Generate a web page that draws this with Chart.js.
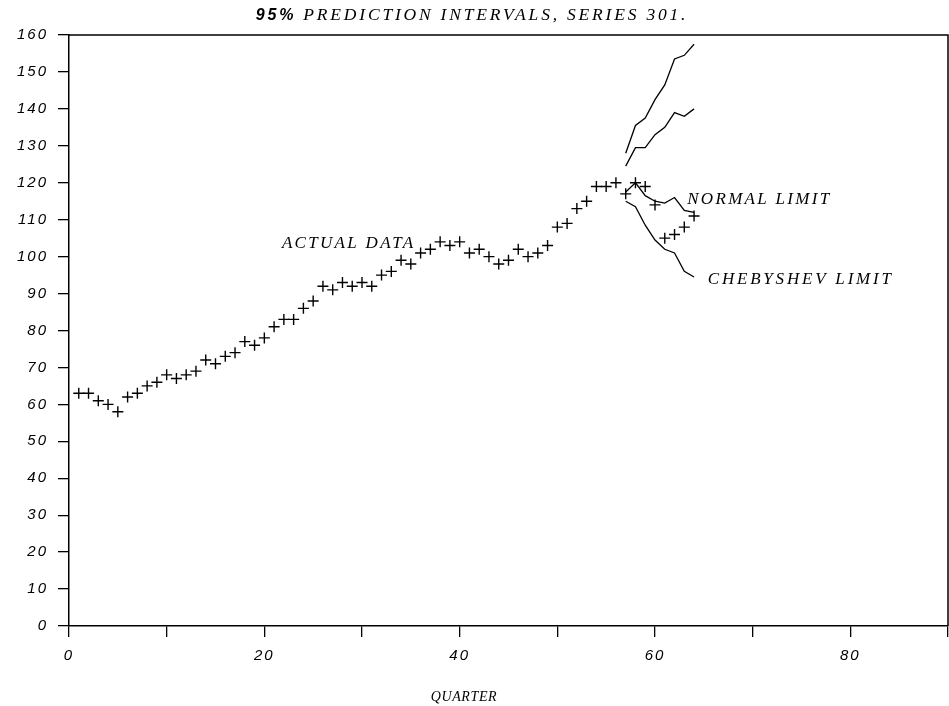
<!DOCTYPE html>
<html>
<head>
<meta charset="utf-8">
<script src="https://cdn.jsdelivr.net/npm/chart.js@4"></script>
<style>
  html, body { margin: 0; padding: 0; background: #fff; }
  canvas { display: block; }
</style>
</head>
<body>
<canvas id="predChart" width="949" height="706"></canvas>
<script>
// actual series, quarters 1..64
const actualValues = [63, 63, 61, 60, 58, 62, 63, 65, 66, 68,
    67, 68, 69, 72, 71, 73, 74, 77, 76, 78,
    81, 83, 83, 86, 88, 92, 91, 93, 92, 93,
    92, 95, 96, 99, 98, 101, 102, 104, 103, 104,
    101, 102, 100, 98, 99, 102, 100, 101, 103, 108,
    109, 113, 115, 119, 119, 120, 117, 120, 119, 114,
    105, 106, 108, 111];

// prediction interval bounds
const forecastQuarters = [57, 58, 59, 60, 61, 62, 63, 64];
const chebUpper = [128, 135.5, 137.5, 142.5, 146.5, 153.5, 154.5, 157.5];
const normalUpper = [124.5, 129.5, 129.5, 133, 135, 139, 138, 140];
const normalLower = [117.5, 120, 116.5, 115, 114.5, 116, 112.5, 112];
const chebLower = [115, 113.5, 108.5, 104.5, 102, 101, 96, 94.5];

const xTickLabels = [0, 20, 40, 60, 80];
const yTickLabels = [0, 10, 20, 30, 40, 50, 60, 70, 80, 90, 100, 110, 120, 130, 140, 150, 160];

const chartTitle = '95% PREDICTION INTERVALS, SERIES 301.';
const xTitle = 'QUARTER';

const toPoints = (xs, ys) => xs.map((x, i) => ({ x: x, y: ys[i] }));

function boundLine(values) {
    return {
        type: 'line',
        data: toPoints(forecastQuarters, values),
        borderColor: '#000',
        borderWidth: 1.3,
        pointRadius: 0,
        tension: 0,
        fill: false
    };
}

const tickFont = { family: '"Liberation Sans", Arial, sans-serif', size: 15, style: 'italic' };

// spacing for tick text, and frame + labels drawn on top
const framePlugin = {
    id: 'frame',
    beforeDraw(chart) {
        chart.ctx.letterSpacing = '2px';
    },
    beforeDatasetsDraw(chart) {
        chart.ctx.letterSpacing = '0px';
    },
    afterDraw(chart) {
        const ctx = chart.ctx;
        const area = chart.chartArea;
        const xs = chart.scales.x;
        const ys = chart.scales.y;

        ctx.save();
        ctx.strokeStyle = '#000';
        ctx.lineWidth = 1.5;
        ctx.beginPath();
        ctx.moveTo(area.left, area.top);
        ctx.lineTo(area.right, area.top);
        ctx.lineTo(area.right, area.bottom);
        ctx.stroke();

        ctx.fillStyle = '#000';
        ctx.textBaseline = 'alphabetic';
        ctx.textAlign = 'left';

        // title
        ctx.letterSpacing = '2.8px';
        ctx.font = 'italic bold 16px "Liberation Sans", Arial, sans-serif';
        const head = chartTitle.slice(0, 3);
        const rest = chartTitle.slice(3);
        const headW = ctx.measureText(head).width;
        ctx.font = 'italic 17.5px "Liberation Serif", serif';
        const restW = ctx.measureText(rest).width;
        let tx = 472 - (headW + restW) / 2;
        ctx.font = 'italic bold 16px "Liberation Sans", Arial, sans-serif';
        ctx.fillText(head, tx, 20);
        ctx.font = 'italic 17.5px "Liberation Serif", serif';
        ctx.fillText(rest, tx + headW, 20);

        // series labels
        ctx.font = 'italic 17px "Liberation Serif", serif';
        ctx.letterSpacing = '2.3px';
        ctx.fillText('ACTUAL DATA', xs.getPixelForValue(21.8), ys.getPixelForValue(102.2));
        ctx.fillText('NORMAL LIMIT', xs.getPixelForValue(63.3), ys.getPixelForValue(114.2));
        ctx.letterSpacing = '2.8px';
        ctx.fillText('CHEBYSHEV LIMIT', xs.getPixelForValue(65.4), ys.getPixelForValue(92.5));

        // axis title
        ctx.font = 'italic 14px "Liberation Serif", serif';
        ctx.letterSpacing = '0.6px';
        ctx.textAlign = 'center';
        ctx.fillText(xTitle, 464, 701);
        ctx.restore();
    }
};

document.addEventListener('DOMContentLoaded', function() {
    const ctx = document.getElementById('predChart').getContext('2d');
    new Chart(ctx, {
        type: 'scatter',
        data: {
            datasets: [
                {
                    label: 'Actual',
                    data: actualValues.map((v, i) => ({ x: i + 1, y: v })),
                    pointStyle: 'cross',
                    pointRadius: 5.5,
                    pointHoverRadius: 5.5,
                    borderColor: '#000',
                    backgroundColor: '#000',
                    borderWidth: 1.4,
                    showLine: false
                },
                boundLine(chebUpper),
                boundLine(normalUpper),
                boundLine(normalLower),
                boundLine(chebLower)
            ]
        },
        options: {
            responsive: false,
            animation: false,
            devicePixelRatio: 1,
            layout: { autoPadding: false, padding: { top: 35, right: 1, left: 0, bottom: 0 } },
            plugins: {
                legend: { display: false },
                tooltip: { enabled: false },
                title: { display: false }
            },
            scales: {
                x: {
                    type: 'linear',
                    min: 0,
                    max: 90,
                    afterFit: s => {
                        s.height = 80;
                        s.paddingLeft = 0;
                        s.paddingRight = 0;
                    },
                    border: { display: true, color: '#000', width: 1.5 },
                    grid: { drawOnChartArea: false, drawTicks: true, tickLength: 11, color: '#000', lineWidth: 1.3 },
                    ticks: {
                        stepSize: 10,
                        color: '#000',
                        font: tickFont,
                        padding: 10,
                        maxRotation: 0,
                        callback: v => xTickLabels.includes(v) ? String(v) : ''
                    }
                },
                y: {
                    min: 0,
                    max: 160,
                    afterFit: s => {
                        s.width = 69;
                        s.paddingTop = 0;
                        s.paddingBottom = 0;
                    },
                    border: { display: true, color: '#000', width: 1.5 },
                    grid: { drawOnChartArea: false, drawTicks: true, tickLength: 11, color: '#000', lineWidth: 1.3 },
                    ticks: {
                        stepSize: 10,
                        color: '#000',
                        font: tickFont,
                        padding: 10,
                        callback: v => yTickLabels.includes(v) ? String(v) : ''
                    }
                }
            }
        },
        plugins: [framePlugin]
    });
});
</script>
</body>
</html>
